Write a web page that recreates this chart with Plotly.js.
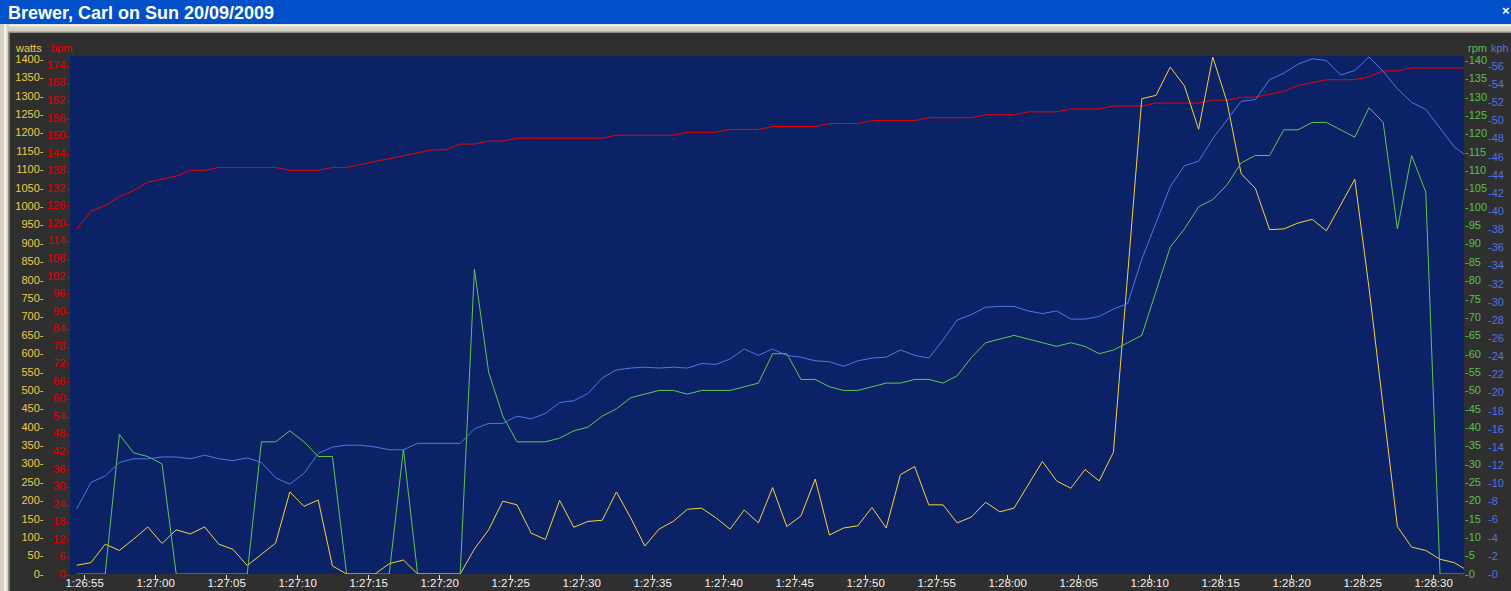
<!DOCTYPE html>
<html>
<head>
<meta charset="utf-8">
<script src="https://cdn.plot.ly/plotly-3.0.1.min.js"></script>
<style>
  html, body { margin: 0; padding: 0; background: #2F2F2F; overflow: hidden; }
  #chart { width: 1511px; height: 591px; }
</style>
</head>
<body>
<div id="chart"></div>
<script>
// ---- Data (one sample per second) ----
const chartTitle = 'Brewer, Carl on Sun 20/09/2009';
const firstSampleUTC = Date.UTC(2009, 8, 20, 1, 26, 54, 450);
const sampleStepMs = 1000;

const watts = [24, 31, 81, 64, 95, 128, 83, 120, 109, 128,
  81, 67, 23, 53, 84, 223, 184, 201, 22, 0,
  0, 0, 28, 38, 0, 0, 0, 0, 68, 120,
  198, 188, 111, 94, 200, 127, 143, 146, 223, 153,
  76, 122, 143, 176, 179, 153, 122, 174, 139, 235,
  129, 158, 258, 106, 125, 131, 181, 125, 270, 292,
  188, 188, 139, 155, 195, 169, 179, 242, 306, 253,
  233, 284, 253, 331, 800, 1292, 1301, 1378, 1327, 1209,
  1405, 1283, 1088, 1048, 936, 938, 954, 964, 933, 1003,
  1073, 778, 461, 129, 73, 64, 40, 31, 8];

const bpm = [118, 124, 126, 129, 131, 134, 135, 136, 138, 138,
  139, 139, 139, 139, 139, 138, 138, 138, 139, 139,
  140, 141, 142, 143, 144, 145, 145, 147, 147, 148,
  148, 149, 149, 149, 149, 149, 149, 149, 150, 150,
  150, 150, 150, 151, 151, 151, 152, 152, 152, 153,
  153, 153, 153, 154, 154, 154, 155, 155, 155, 155,
  156, 156, 156, 156, 157, 157, 157, 158, 158, 158,
  159, 159, 159, 160, 160, 160, 161, 161, 161, 161,
  162, 162, 163, 163, 164, 165, 167, 168, 169, 169,
  169, 170, 172, 172, 173, 173, 173, 173, 173];

const rpm = [0, 0, 0, 38, 33, 32, 30, 0, 0, 0,
  0, 0, 0, 36, 36, 39, 36, 32, 32, 0,
  0, 0, 0, 34, 0, 0, 0, 0, 83, 55,
  43, 36, 36, 36, 37, 39, 40, 43, 45, 48,
  49, 50, 50, 49, 50, 50, 50, 51, 52, 60,
  60, 53, 53, 51, 50, 50, 51, 52, 52, 53,
  53, 52, 54, 59, 63, 64, 65, 64, 63, 62,
  63, 62, 60, 61, 63, 65, 77, 89, 94, 100,
  102, 106, 112, 114, 114, 121, 121, 123, 123, 121,
  119, 127, 123, 94, 114, 104, 0, 0, 0];

const kph = [7.2, 10.1, 10.8, 12.3, 12.7, 12.7, 12.9, 12.9, 12.7, 13.1,
  12.7, 12.5, 12.8, 12.3, 10.6, 9.9, 11.1, 13.3, 14.0, 14.2,
  14.2, 14.0, 13.7, 13.7, 14.4, 14.4, 14.4, 14.4, 16.0, 16.6,
  16.6, 17.4, 17.1, 17.7, 18.9, 19.1, 19.9, 21.6, 22.5, 22.7,
  22.8, 22.7, 22.8, 22.7, 23.2, 23.1, 23.7, 24.8, 24.1, 24.8,
  24.1, 23.9, 23.5, 23.4, 22.9, 23.5, 23.8, 23.9, 24.7, 24.1,
  23.8, 25.8, 28.0, 28.6, 29.4, 29.5, 29.5, 29.0, 28.7, 29.0,
  28.1, 28.1, 28.4, 29.2, 29.8, 34.7, 38.7, 42.7, 45.0, 45.5,
  48.0, 50.0, 52.1, 52.3, 54.5, 55.2, 56.2, 56.8, 56.6, 55.0,
  55.5, 57.0, 55.4, 53.5, 52.0, 51.2, 49.1, 47.1, 45.9];

const axisNames = { watts: 'watts', bpm: 'bpm', rpm: 'rpm', kph: 'kph' };

// ---- Layout helpers ----
const W = 1511, H = 591;
const px = x => x / W;
const py = y => 1 - y / H;
const FONT = 'Liberation Sans, Arial, sans-serif';

const times = watts.map((_, i) => firstSampleUTC + i * sampleStepMs);

const colors = {
  watts: '#F8D23C', bpm: '#F00000', rpm: '#5CC850', kph: '#4A78E8',
  wattsText: '#F2C94A', bpmText: '#E00000', rpmText: '#58C050', kphText: '#4F72E2'
};

const traces = [
  { x: times, y: kph, yaxis: 'y4', type: 'scatter', mode: 'lines', line: { color: colors.kph, width: 1 } },
  { x: times, y: rpm, yaxis: 'y3', type: 'scatter', mode: 'lines', line: { color: colors.rpm, width: 1 } },
  { x: times, y: bpm, yaxis: 'y', type: 'scatter', mode: 'lines', line: { color: colors.bpm, width: 1 } },
  { x: times, y: watts, yaxis: 'y2', type: 'scatter', mode: 'lines', line: { color: colors.watts, width: 1 } }
];

const yDomain = [py(574), py(56)];
const yCommon = { showgrid: false, zeroline: false, showline: false, ticks: '', fixedrange: true, tick0: 0 };

const layout = {
  width: W, height: H,
  margin: { l: 0, r: 0, t: 0, b: 0, pad: 0 },
  paper_bgcolor: '#2F2F2F',
  plot_bgcolor: '#0B2366',
  showlegend: false,
  hovermode: false,
  xaxis: {
    type: 'date', anchor: 'y',
    domain: [px(70), px(1464)],
    range: [Date.UTC(2009, 8, 20, 1, 26, 53, 970), Date.UTC(2009, 8, 20, 1, 28, 32, 140)],
    tick0: Date.UTC(2009, 8, 20, 1, 26, 55), dtick: 5000,
    tickformat: '%-H:%M:%S',
    showgrid: false, zeroline: false, showline: false,
    ticks: 'outside', ticklen: 4, tickwidth: 1, tickcolor: '#E8E8E8',
    ticklabelstandoff: -6,
    tickfont: { family: FONT, size: 11.5, color: '#F2F2F2' }
  },
  yaxis: Object.assign({}, yCommon, {
    domain: yDomain, anchor: 'x', side: 'left',
    range: [0, 177.1], dtick: 6, ticksuffix: '-',
    tickfont: { family: FONT, size: 11, color: colors.bpmText }
  }),
  yaxis2: Object.assign({}, yCommon, {
    overlaying: 'y', anchor: 'free', position: px(43.5), side: 'left',
    range: [0, 1408], dtick: 50, ticksuffix: '-',
    tickfont: { family: FONT, size: 11, color: colors.wattsText }
  }),
  yaxis3: Object.assign({}, yCommon, {
    overlaying: 'y', anchor: 'x', side: 'right',
    range: [0, 141.1], dtick: 5, tickprefix: '-',
    tickfont: { family: FONT, size: 11, color: colors.rpmText }
  }),
  yaxis4: Object.assign({}, yCommon, {
    overlaying: 'y', anchor: 'free', position: px(1487), side: 'right',
    range: [0, 57.1], dtick: 2, tickprefix: '-',
    tickfont: { family: FONT, size: 11, color: colors.kphText }
  }),
  shapes: [
    // title bar
    { type: 'rect', xref: 'paper', yref: 'paper', x0: 0, x1: 1, y0: py(24), y1: 1, fillcolor: '#0250C9', line: { width: 0 }, layer: 'above' },
    // window frame top
    { type: 'rect', xref: 'paper', yref: 'paper', x0: 0, x1: 1, y0: py(33), y1: py(24), fillcolor: '#D6D2C2', line: { width: 0 }, layer: 'above' },
    { type: 'rect', xref: 'paper', yref: 'paper', x0: px(4), x1: 1, y0: py(26.5), y1: py(24.5), fillcolor: '#F4F2E8', line: { width: 0 }, layer: 'above' },
    { type: 'rect', xref: 'paper', yref: 'paper', x0: px(8), x1: 1, y0: py(33), y1: py(31.5), fillcolor: '#8E8C84', line: { width: 0 }, layer: 'above' },
    // window frame left
    { type: 'rect', xref: 'paper', yref: 'paper', x0: 0, x1: px(9.3), y0: 0, y1: py(24), fillcolor: '#D6D2C2', line: { width: 0 }, layer: 'above' },
    { type: 'rect', xref: 'paper', yref: 'paper', x0: px(4), x1: px(6.5), y0: 0, y1: py(24.5), fillcolor: '#F4F2E8', line: { width: 0 }, layer: 'above' },
    { type: 'rect', xref: 'paper', yref: 'paper', x0: px(8), x1: px(9.3), y0: 0, y1: py(31.5), fillcolor: '#8E8C84', line: { width: 0 }, layer: 'above' }
  ],
  annotations: [
    { text: '<b>' + chartTitle + '</b>', xref: 'paper', yref: 'paper', x: px(6), y: py(12.5), xanchor: 'left', yanchor: 'middle', showarrow: false, font: { family: FONT, size: 18, color: '#FFFFFF' } },
    { text: '<b>×</b>', xref: 'paper', yref: 'paper', x: px(1506), y: py(10), xanchor: 'center', yanchor: 'middle', showarrow: false, font: { family: FONT, size: 13, color: '#FFFFFF' } },
    { text: axisNames.watts, xref: 'paper', yref: 'paper', x: px(43.5), y: py(47.5), xanchor: 'right', yanchor: 'middle', showarrow: false, font: { family: FONT, size: 11, color: colors.wattsText } },
    { text: axisNames.bpm, xref: 'paper', yref: 'paper', x: px(48.5), y: py(47.5), xanchor: 'left', yanchor: 'middle', showarrow: false, font: { family: FONT, size: 11, color: colors.bpmText } },
    { text: axisNames.rpm, xref: 'paper', yref: 'paper', x: px(1466), y: py(47.5), xanchor: 'left', yanchor: 'middle', showarrow: false, font: { family: FONT, size: 11, color: colors.rpmText } },
    { text: axisNames.kph, xref: 'paper', yref: 'paper', x: px(1489), y: py(47.5), xanchor: 'left', yanchor: 'middle', showarrow: false, font: { family: FONT, size: 11, color: colors.kphText } }
  ]
};

Plotly.newPlot('chart', traces, layout, { displayModeBar: false, staticPlot: true });
</script>
</body>
</html>
